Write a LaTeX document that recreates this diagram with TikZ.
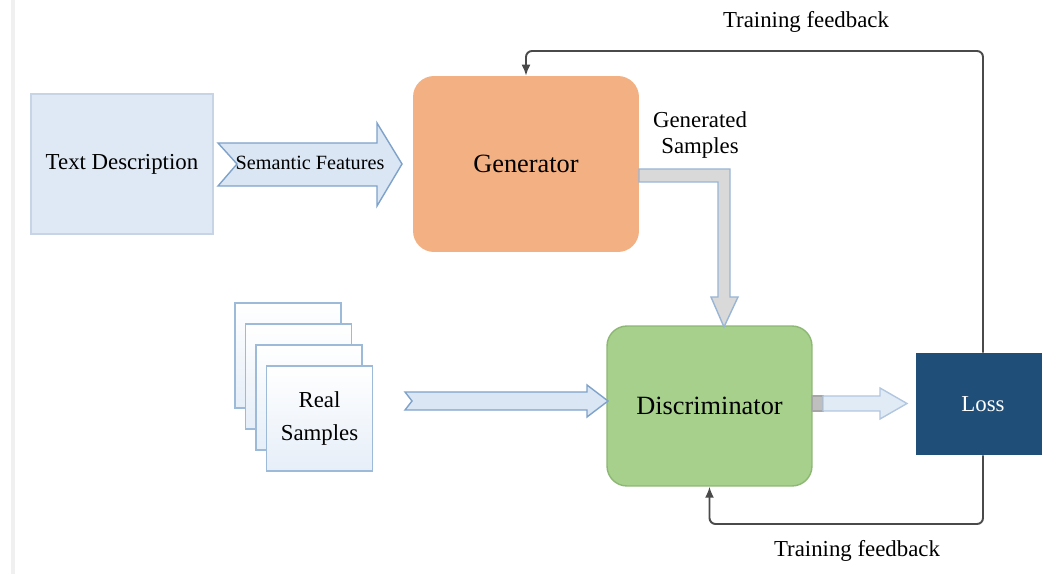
\documentclass[tikz,border=0pt]{standalone}
\usepackage{fontspec}
\setmainfont{Liberation Serif}
\usetikzlibrary{arrows.meta}
\definecolor{descfill}{HTML}{DEE9F5}
\definecolor{descline}{HTML}{C6D4E6}
\definecolor{genfill}{HTML}{F3B183}
\definecolor{discfill}{HTML}{A8D08D}
\definecolor{discline}{HTML}{8CB874}
\definecolor{lossfill}{HTML}{1F4E79}
\definecolor{arrowfill}{HTML}{DAE6F4}
\definecolor{arrowline}{HTML}{7FA2CA}
\definecolor{samplefill}{HTML}{E6EEF8}
\definecolor{sampleline}{HTML}{9DBBD9}
\definecolor{fbline}{HTML}{4A4A4A}
\tikzset{
  txt/.style={font=\fontsize{13}{16}\selectfont, align=center, inner sep=0pt},
  bigtxt/.style={font=\fontsize{15}{18}\selectfont, align=center, inner sep=0pt},
  block/.style={bigtxt, minimum width=#1, minimum height=3.52cm, rounded corners=0.42cm},
  sample/.style={draw=sampleline, line width=0.9pt, top color=white, bottom color=samplefill,
    minimum width=2.12cm, minimum height=2.1cm, inner sep=0pt},
  fatarrow/.style={draw=arrowline, fill=arrowfill, line width=0.8pt, line join=miter},
  feedback/.style={draw=fbline, line width=1.1pt, rounded corners=0.12cm, -{Latex[length=2.2mm,width=1.8mm]}}
}
\begin{document}
\begin{tikzpicture}[x=0.02cm, y=-0.02cm]
  \useasboundingbox[fill=white] (0,0) rectangle (1042,574);
  % faint page edge
  \draw[color=black!6, line width=2.5pt] (13,0) -- (13,574);

  % Boxes
  \node[txt, draw=descline, fill=descfill, line width=0.8pt, minimum width=3.64cm, minimum height=2.8cm] (desc) at (122,164) {Text Description};
  \node[block=4.52cm, fill=genfill] (gen) at (526,164) {Generator};
  \node[block=4.1cm, draw=discline, fill=discfill, line width=0.8pt, minimum height=3.2cm, rounded corners=0.4cm] (disc) at (709.5,406) {Discriminator};
  \node[txt, fill=lossfill, text=white, minimum width=2.68cm, minimum height=2.04cm] (loss) at (983,404) {Loss};

  % Stack of real samples
  \foreach \i in {0,1,2}
    \node[sample] (page\i) at (288+10.5*\i,355.5+21*\i) {};
  \node[sample, txt] (real) at (319.5,418.5) {Real\\[3pt]Samples};

  % Block arrows
  \draw[fatarrow] (218,143) -- (377,143) -- (377,123) -- (402,164) -- (377,206) -- (377,186) -- (218,186) -- (237,164) -- cycle;
  \node[font=\fontsize{11.5}{14}\selectfont, inner sep=0pt] (semantic) at (310,163) {Semantic Features};
  \draw[fatarrow, draw=arrowline!80, fill=black!15] (639,169) -- (730,169) -- (730,297) -- (738,297) -- (724,327)
    -- (711,297) -- (718,297) -- (718,182) -- (639,182) -- cycle;
  \node[txt] (generated) at (700,135) {Generated\\[-1pt]Samples};
  \draw[fatarrow] (405,392) -- (587,392) -- (587,385) -- (608,401) -- (587,417) -- (587,410) -- (405,410) -- (412,401) -- cycle;
  \draw[draw=black!35, fill=black!25, line width=0.6pt] (812,396) rectangle (823,411);
  \draw[fatarrow, draw=arrowline!60, fill=arrowfill!80!white] (823,396) -- (880,396) -- (880,388) -- (907,403.5) -- (880,419) -- (880,411) -- (823,411) -- cycle;

  % Training feedback loops
  \coordinate (fbtop) at (983,51);
  \coordinate (fbbot) at (983,524);
  \draw[feedback] (loss.north) -- (fbtop) -| (gen.north);
  \draw[feedback] (loss.south) -- (fbbot) -| (disc.south);
  \node[txt] (fbtoplabel) at (806,22) {Training feedback};
  \node[txt] (fbbotlabel) at (857,551) {Training feedback};
\end{tikzpicture}
\end{document}
